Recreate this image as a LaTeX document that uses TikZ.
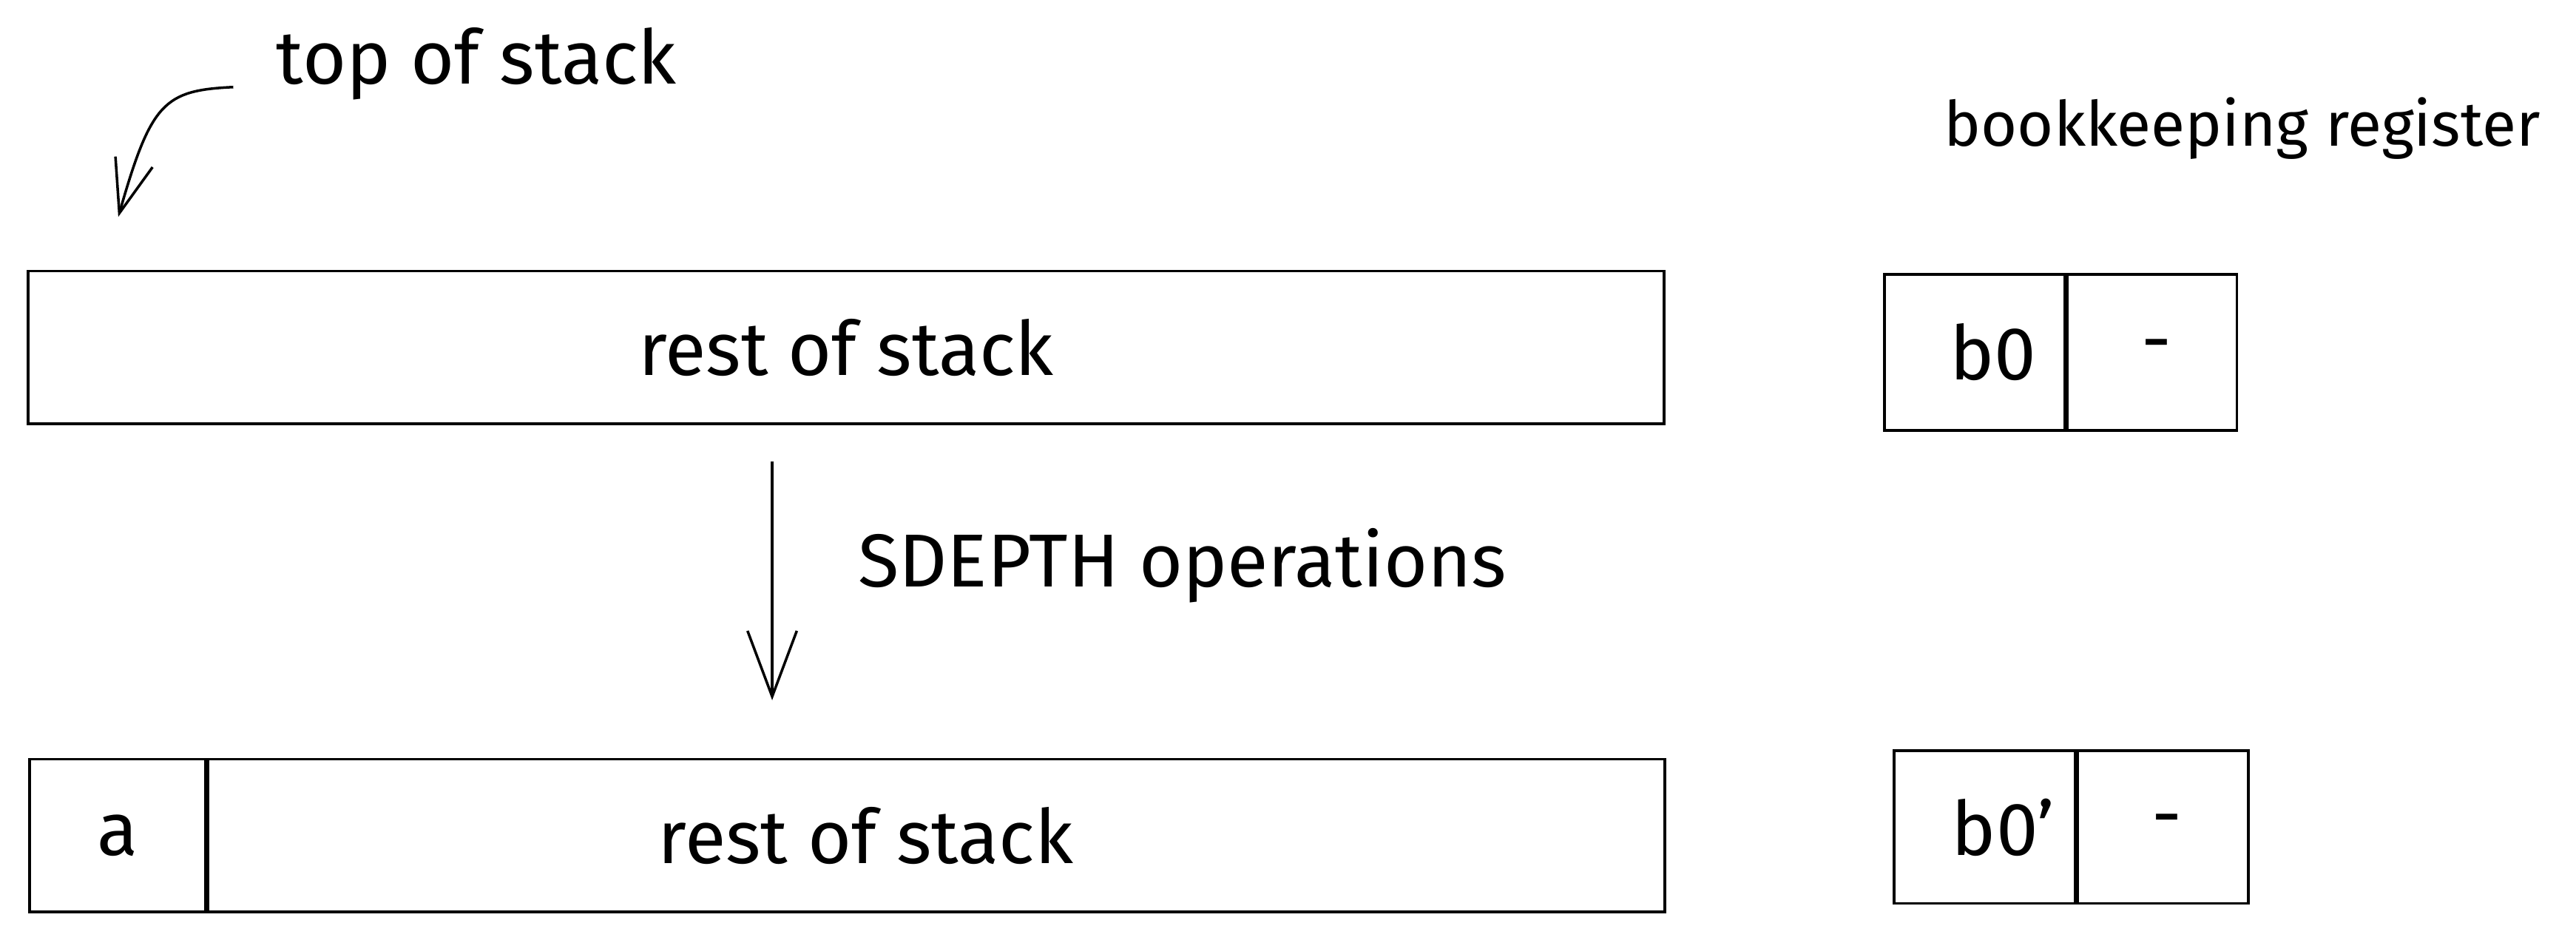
\documentclass[tikz,border=0pt]{standalone}
\usepackage{fontspec}
\setmainfont{Fira Sans}
\usetikzlibrary{arrows.meta,positioning}
\newcommand{\linew}{0.9pt}
\newcommand{\cellh}{1.86cm}

\begin{document}
\begin{tikzpicture}[x=0.02cm,y=-0.02cm]
        \begin{scope}
        %\draw[help lines] (0,0) grid (1568,572);
            \useasboundingbox (0,0) rectangle (1568,572);
            \tikzset{cell/.style = {draw, line width=\linew, inner sep=0pt, minimum height=\cellh}}
            \tikzset{txt/.style = {inner sep=0pt, font=\fontsize{26}{31}\selectfont}}
            \tikzset{arr/.style = {line width=\linew, -{Straight Barb[length=6.5mm,width=4.7mm]}}}
            \tikzset{bigarr/.style = {line width=\linew, -{Straight Barb[length=8mm,width=6mm]}}}

            % labels
            \node[txt, anchor=base west] (tos) at (168,51) {top of stack};
            \node[txt, anchor=base west, font=\fontsize{21.6}{26}\selectfont] (book) at (1183,89) {bookkeeping register};

            % stack before
            \node[cell, txt, minimum width=19.92cm, minimum height=\cellh] (stack1) at (515,211.5) {rest of stack};

            % stack after
            \node[cell, txt, minimum width=2.14cm, minimum height=\cellh] (a) at (71.5,508.5) {a};
            \node[cell, minimum width=17.74cm, right=0pt of a] (rest2) {};
            \node[txt, xshift=0.24cm] (rest2txt) at (stack1 |- rest2) {rest of stack};

            % registers
            \node[cell, txt, minimum width=2.2cm, minimum height=1.9cm] (b1) at (1202,214.5) {\hspace*{0.45cm}b0};
            \node[cell, txt, minimum width=2.06cm, minimum height=1.9cm, right=0pt of b1] (h1) {\hspace*{0.1cm}\raisebox{-0.12cm}{-}};
            \node[cell, txt, minimum width=2.2cm] (b2) at (1208,503.5) {\hspace*{0.45cm}b0'};
            \node[cell, txt, minimum width=2.08cm, right=0pt of b2] (h2) {\hspace*{0.1cm}\raisebox{-0.12cm}{-}};

            % arrows
            \coordinate (tosend) at (142,53);
            \coordinate (tostip) at (72,132);
            \draw[arr] (tosend) .. controls (100,55) and (92,62) .. (tostip);

            \coordinate (d1) at ([xshift=-0.9cm]stack1.south);
            \draw[bigarr, shorten <=0.44cm, shorten >=0.7cm] (d1) -- (d1 |- rest2.north);
            \node[txt, anchor=base west] (op) at (522,357) {SDEPTH operations};
        \end{scope}
    \end{tikzpicture}
\end{document}
